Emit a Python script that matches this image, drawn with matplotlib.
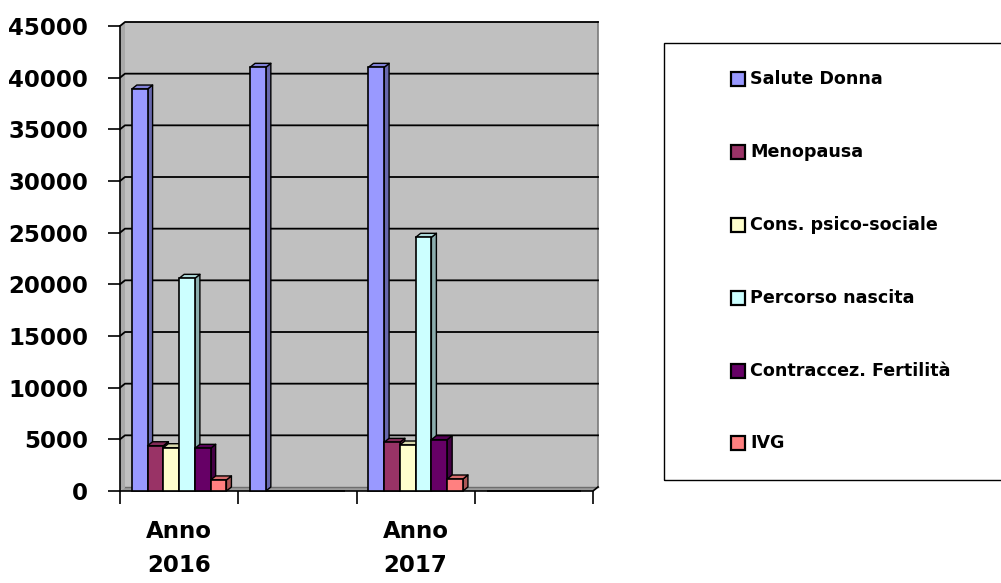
import numpy as np
import matplotlib.pyplot as plt
import matplotlib.colors as mcolors
from matplotlib.patches import Polygon, Rectangle

plt.rcParams['font.family'] = ['DejaVu Sans']
plt.rcParams['font.weight'] = 'bold'

categories = ["Anno\n2016", "", "Anno\n2017", ""]
series = ["Salute Donna", "Menopausa", "Cons. psico-sociale",
          "Percorso nascita", "Contraccez. Fertilità", "IVG"]
salute_donna = [38900, 41000, 41000, 0]
menopausa = [4380, 0, 4710, 0]
cons_psico = [4190, 0, 4450, 0]
percorso_nascita = [20580, 0, 24550, 0]
contraccez = [4130, 0, 4970, 0]
ivg = [1070, 0, 1160, 0]
colors = ["#9999FF", "#993366", "#FFFFCC", "#CCFFFF", "#660066", "#FF8080"]
yticks = list(range(0, 45001, 5000))

values = [salute_donna, menopausa, cons_psico, percorso_nascita, contraccez, ivg]

W, H = 1001, 583
fig = plt.figure(figsize=(W / 100, H / 100), dpi=100)
ax = fig.add_axes([120 / W, (H - 491) / H, 473 / W, 465 / H])
ncat = len(categories)
ymax = 45000
ax.set_xlim(0, ncat)
ax.set_ylim(0, ymax)
ax.patch.set_visible(False)
for s in ax.spines.values():
    s.set_visible(False)

# depth offset of the pseudo-3D box, in data units (5 px right, 4 px up)
dx = 5 / 473 * ncat
dy = 4 / 465 * ymax


def shade(c, f):
    r, g, b = mcolors.to_rgb(c)
    return (r * f, g * f, b * f)


# walls and floor
ax.add_patch(Rectangle((dx, dy), ncat, ymax, fc='#C0C0C0', ec='none',
                       zorder=0, clip_on=False))
ax.add_patch(Polygon([(0, 0), (dx, dy), (dx, ymax + dy), (0, ymax)],
                     fc='#A9A9A9', ec='none', zorder=0.5, clip_on=False))
ax.add_patch(Polygon([(0, 0), (ncat, 0), (ncat + dx, dy), (dx, dy)],
                     fc='#9C9C9C', ec='none', zorder=0.5, clip_on=False))
ax.plot([ncat + dx, ncat + dx], [dy, ymax + dy], color='#7A7A7A', lw=1.2,
        clip_on=False, zorder=0.6)

for v in yticks[1:]:
    ax.plot([0, dx, ncat + dx], [v, v + dy, v + dy], color='black', lw=1.3,
            clip_on=False, zorder=1)
ax.plot([dx, ncat + dx], [dy, dy], color='#6E6E6E', lw=1.0, zorder=1,
        clip_on=False)
ax.plot([0, 0], [0, ymax], color='black', lw=1.2, clip_on=False, zorder=2)
ax.plot([0, ncat, ncat + dx], [0, 0, dy], color='black', lw=1.2,
        clip_on=False, zorder=2)

# bars with side and top faces
w = 0.8 / len(series)
x_base = np.arange(ncat) + 0.1
for j, (vals, col) in enumerate(zip(values, colors)):
    xs = x_base + j * w
    z = 3 + 3 * j
    for x, h in zip(xs, vals):
        if h <= 0:
            continue
        ax.add_patch(Polygon([(x + w, 0), (x + w + dx, dy), (x + w + dx, h + dy), (x + w, h)],
                             fc=shade(col, 0.68), ec='black', lw=1.0, zorder=z,
                             joinstyle='round', clip_on=False))
        ax.add_patch(Polygon([(x, h), (x + dx, h + dy), (x + w + dx, h + dy), (x + w, h)],
                             fc=shade(col, 0.85), ec='black', lw=1.0, zorder=z + 1,
                             joinstyle='round', clip_on=False))
    ax.bar(xs, vals, width=w, align='edge', color=col, edgecolor='black',
           linewidth=1.2, zorder=z + 2, clip_on=False)

# axes ticks
ax.set_yticks(yticks)
ax.set_yticklabels([str(v) for v in yticks])
ax.tick_params(axis='y', length=9, width=1.2, pad=14, labelsize=16.5)
ax.set_xticks(np.arange(ncat + 1))
ax.set_xticklabels([])
ax.tick_params(axis='x', which='major', length=9, width=1.2)
ax.set_xticks(np.arange(ncat) + 0.5, minor=True)
ax.set_xticklabels(categories, minor=True, fontsize=16.5, linespacing=1.6)
ax.tick_params(axis='x', which='minor', length=0, pad=21)

# legend box
fig.add_artist(Rectangle((664 / W, (H - 480) / H), (1010 - 664) / W, (480 - 43) / H,
                         transform=fig.transFigure, fill=False, ec='black', lw=1.0))
rows = [79, 152, 225, 298, 371, 443]
for y, name, col in zip(rows, series, colors):
    fig.add_artist(Rectangle((731 / W, (H - y - 7) / H), 14 / W, 14 / H,
                             transform=fig.transFigure, fc=col, ec='black', lw=1.6))
    fig.text(750 / W, (H - y) / H, name, va='center', ha='left', fontsize=12.6)

fig.savefig('out.png', dpi=100)
